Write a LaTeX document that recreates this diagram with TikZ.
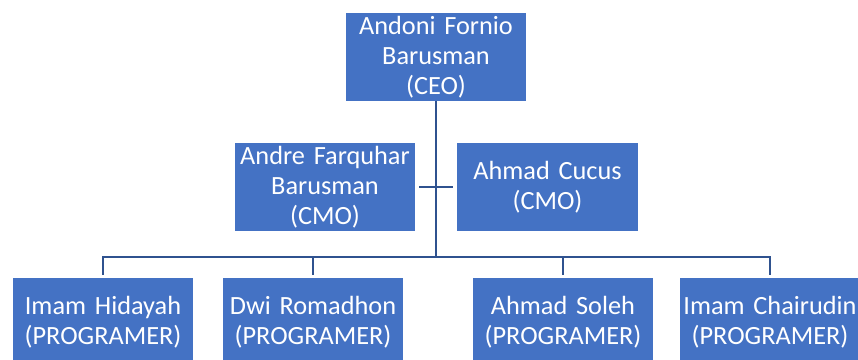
\documentclass[tikz,border=0pt]{standalone}
\usepackage{fontspec}
\setmainfont{Carlito}
\definecolor{boxblue}{HTML}{4472C4}
\definecolor{lineblue}{HTML}{2F528F}
\begin{document}
\begin{tikzpicture}[x=1pt,y=-1pt,
  orgbox/.style={fill=boxblue, draw=none, text=white, minimum width=180pt, minimum height=88pt,
    inner sep=0pt, text width=180pt, align=center, font=\fontsize{26.3}{30}\selectfont},
  conn/.style={draw=lineblue, line width=2pt}]
\clip (0,0) rectangle (858,359);
\useasboundingbox (0,0) rectangle (858,359);
\fill[white] (0,0) rectangle (858,359);
\node[orgbox] (ceo) at (436,57) {Andoni Fornio\\Barusman\\(CEO)};
\node[orgbox] (cmoa) at (325,187) {Andre Farquhar\\Barusman\\(CMO)};
\node[orgbox, text width=181pt] (cmob) at (547.5,187) {Ahmad Cucus\\(CMO)};
\node[orgbox] (pa) at (103,322) {Imam Hidayah\\(PROGRAMER)};
\node[orgbox] (pb) at (313,322) {Dwi Romadhon\\(PROGRAMER)};
\node[orgbox] (pc) at (563,322) {Ahmad Soleh\\(PROGRAMER)};
\node[orgbox] (pd) at (770,322) {Imam Chairudin\\(PROGRAMER)};
\coordinate (bus) at (436,257);
\draw[conn] (ceo.south) -- (bus);
\draw[conn, shorten <=4pt, shorten >=4pt] (cmoa.east) -- (cmob.west);
\draw[conn, shorten <=3pt] (pa.north) |- (bus);
\draw[conn, shorten <=3pt] (pb.north) |- (bus);
\draw[conn, shorten <=3pt] (pc.north) |- (bus);
\draw[conn, shorten <=3pt] (pd.north) |- (bus);
\end{tikzpicture}
\end{document}
